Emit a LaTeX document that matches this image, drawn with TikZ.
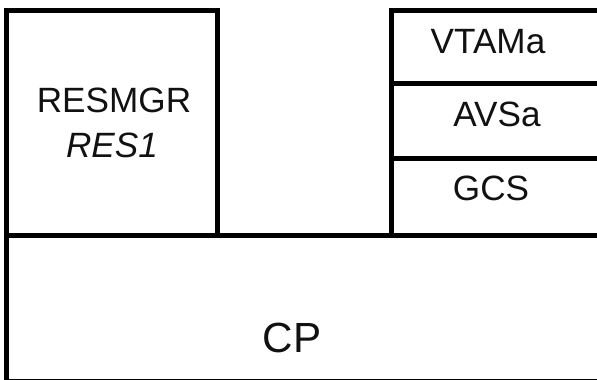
\documentclass[tikz,border=0pt]{standalone}
\usepackage{fontspec}
\setmainfont{Liberation Sans}
\usepackage{tikz}
\usepackage{xcolor}
\usetikzlibrary{positioning, calc}
\definecolor{cFrame}{HTML}{000000}
\definecolor{cLabel}{HTML}{111111}
\tikzset{
  frameline/.style={draw=cFrame, line width=1.25mm, line cap=rect},
  lbl/.style={font=\fontsize{25}{30}\selectfont, text=cLabel, inner sep=0pt},
}
\begin{document}
\begin{tikzpicture}[x=0.25mm, y=-0.25mm]
        \useasboundingbox (0,0) rectangle (597,379);
        % outer frame and the layer lines
        \draw[frameline] (6,10.5) -- (217.5,10.5) -- (217.5,235);
        \draw[frameline] (6,10.5) -- (6,381) -- (620,381);
        \draw[frameline] (6,235) -- (620,235);
        \draw[frameline] (620,10.5) -- (391,10.5) -- (391,235);
        \foreach \y in {83,158.5}{
          \draw[frameline] (391,\y) -- (620,\y);
        }
        % labels
        \node[lbl] (resmgr) at (114,100) {RESMGR};
        \node[lbl, font=\fontsize{25}{30}\selectfont\itshape] (res) at (112,145) {RES1};
        \node[lbl] (vtam) at (488,42) {VTAMa};
        \node[lbl] (avs) at (497,114) {AVSa};
        \node[lbl] (gcs) at (491,188) {GCS};
        \node[lbl, font=\fontsize{30}{36}\selectfont] (cp) at (292,338) {CP};
      \end{tikzpicture}
\end{document}
